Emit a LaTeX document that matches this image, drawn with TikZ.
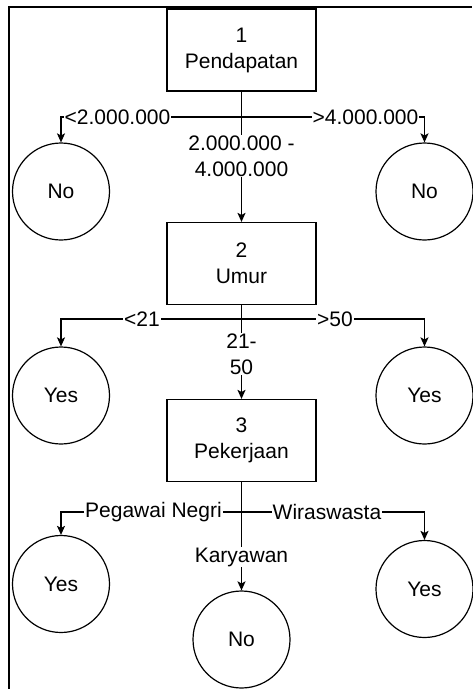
\documentclass[tikz,border=0pt]{standalone}
\usepackage{fontspec}
\setmainfont{Liberation Sans}
\usetikzlibrary{arrows.meta}
\begin{document}
\begin{tikzpicture}[x=1pt,y=-1pt,
  every node/.style={font=\fontsize{21}{26}\selectfont},
  box/.style={draw,line width=1.2pt,minimum width=149pt,minimum height=82pt,align=center,inner sep=0pt},
  leaf/.style={draw,circle,line width=1.2pt,minimum size=97pt,inner sep=0pt},
  lbl/.style={fill=white,inner xsep=1pt,inner ysep=1pt,align=center},
  edge/.style={line width=1.2pt,-{Stealth[length=9pt,width=8pt,inset=2pt]}},
  ln/.style={line width=1.2pt}]
\useasboundingbox (0,0) rectangle (472,689);
\draw[line width=2pt] (9.3,689) -- (9.3,6.5) -- (472,6.5);
% decision boxes
\node[box] (b1) at (241.5,50) {1\\Pendapatan};
\node[box] (b2) at (241.5,263.5) {2\\Umur};
\node[box] (b3) at (241.5,440.5) {3\\Pekerjaan};
% leaves
\node[leaf] (n1) at (61,191.5) {No};
\node[leaf] (n2) at (424.5,191.5) {No};
\node[leaf] (y1) at (61,395.5) {Yes};
\node[leaf] (y2) at (424.5,395.5) {Yes};
\node[leaf] (y3) at (61,584) {Yes};
\node[leaf] (y4) at (424.5,589) {Yes};
\node[leaf] (n3) at (241.5,639.5) {No};
% level 1
\coordinate (j1) at (241.5,117);
\draw[ln] (b1.south) -- (j1);
\draw[edge] (j1) -| (n1.north);
\draw[edge] (j1) -| (n2.north);
\draw[edge] (j1) -- (b2.north);
\node[lbl] (l1) at (117.5,117) {<2.000.000};
\node[lbl] (l2) at (365.5,117) {>4.000.000};
\node[lbl] (l3) at (241.5,156) {2.000.000 -\\4.000.000};
% level 2
\coordinate (j2) at (241.5,319);
\draw[ln] (b2.south) -- (j2);
\draw[edge] (j2) -| (y1.north);
\draw[edge] (j2) -| (y2.north);
\draw[edge] (j2) -- (b3.north);
\node[lbl] (l4) at (142,319) {<21};
\node[lbl] (l5) at (335,319) {>50};
\node[lbl] (l6) at (241.5,354) {21-\\50};
% level 3
\coordinate (j3) at (241.5,512);
\draw[ln] (b3.south) -- (j3);
\draw[edge] (j3) -| (y3.north);
\draw[edge] (j3) -| (y4.north);
\draw[edge] (j3) -- (n3.north);
\node[lbl] (l7) at (153.5,512) {Pegawai Negri};
\node[lbl] (l8) at (327,512) {Wiraswasta};
\node[lbl] (l9) at (241.5,557) {Karyawan};
\end{tikzpicture}
\end{document}
